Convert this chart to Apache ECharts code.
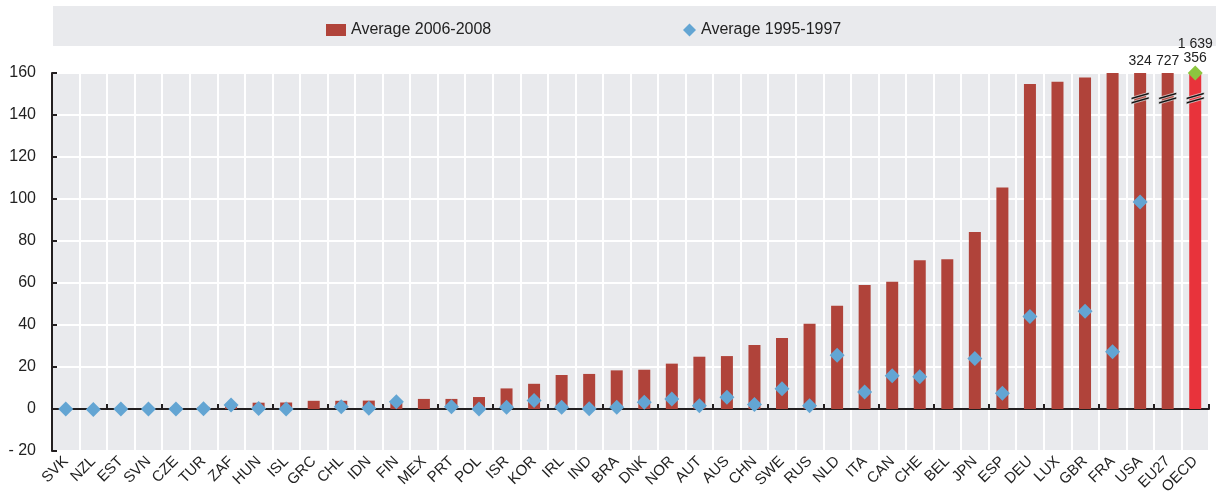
<!DOCTYPE html>
<html>
<head>
<meta charset="utf-8">
<title>Average 2006-2008 vs 1995-1997</title>
<script src="https://cdn.jsdelivr.net/npm/echarts@6/dist/echarts.min.js"></script>
<style>
html, body { margin: 0; padding: 0; background: #fff; }
#main { width: 1216px; height: 494px; }
</style>
</head>
<body>
<div id="main"></div>
<script>
// categories (countries)
var countries = ['SVK', 'NZL', 'EST', 'SVN', 'CZE', 'TUR', 'ZAF', 'HUN', 'ISL', 'GRC', 'CHL', 'IDN', 'FIN', 'MEX',
  'PRT', 'POL', 'ISR', 'KOR', 'IRL', 'IND', 'BRA', 'DNK', 'NOR', 'AUT', 'AUS', 'CHN', 'SWE', 'RUS', 'NLD', 'ITA',
  'CAN', 'CHE', 'BEL', 'JPN', 'ESP', 'DEU', 'LUX', 'GBR', 'FRA', 'USA', 'EU27', 'OECD'];
// Average 2006-2008 (bars)
var avg0608 = [0.1, 0.2, 0.3, 0.4, 0.8, 1.0, 1.5, 3.0, 3.1, 3.9, 3.9, 4.0, 3.0, 4.8,
  4.8, 5.7, 9.8, 12.0, 16.2, 16.7, 18.4, 18.7, 21.6, 24.9, 25.2, 30.5, 33.8, 40.6, 49.2, 59.0,
  60.6, 70.8, 71.3, 84.3, 105.5, 154.8, 155.8, 157.8, 160, 324, 727, 1639];
// Average 1995-1997 (diamonds), null = no data
var avg9597 = [0, -0.2, 0, 0, 0, 0.1, 1.9, 0.2, 0, null, 1.1, 0.3, 3.5, null,
  1.1, 0, 0.8, 4.1, 0.8, 0.1, 0.8, 3.2, 4.8, 1.6, 5.6, 2.2, 9.7, 1.6, 25.6, 8.1,
  15.8, 15.4, null, 24.0, 7.5, 44.0, null, 46.6, 27.3, 98.6, null, 356];
// y axis
var yMin = -20, yMax = 160, yStep = 20;
var breakAt = 148; // where the axis-break marks sit on cut bars

var fontFam = "'Liberation Sans Narrow', 'Arial Narrow', 'Liberation Sans', sans-serif";
var barColor = '#b0433a', barColorTotal = '#e8333b';
var dotColor = '#63a5d3', dotColorTotal = '#8cc63f';

function fmtNum(v) {
  return String(v).replace(/\B(?=(\d{3})+(?!\d))/g, ' ');
}

var barData = avg0608.map(function (v, i) {
  var isTotal = countries[i] === 'OECD';
  var cut = v > yMax;
  return {
    value: Math.min(v, yMax),
    realValue: v,
    itemStyle: { color: isTotal ? barColorTotal : barColor },
    label: {
      show: cut,
      offset: isTotal ? [0, -17] : [0, 0]
    }
  };
});

var dotData = avg9597.map(function (v, i) {
  if (v === null) return null;
  var isTotal = countries[i] === 'OECD';
  var cut = v > yMax;
  return {
    value: Math.min(v, yMax),
    realValue: v,
    itemStyle: { color: isTotal ? dotColorTotal : dotColor },
    label: { show: cut }
  };
});

var breakMarks = [];
avg0608.forEach(function (v, i) {
  if (v > yMax) breakMarks.push({ coord: [countries[i], breakAt] });
});

var myChart = echarts.init(document.getElementById('main'));
var option = {
  animation: false,
  textStyle: { fontFamily: fontFam },
  graphic: [{
    type: 'rect',
    z: 0,
    shape: { x: 53, y: 6, width: 1163, height: 40 },
    style: { fill: '#e9eaed' }
  }],
  legend: [{
    left: 321, top: 17,
    icon: 'rect', itemWidth: 20, itemHeight: 12, itemGap: 8,
    textStyle: { color: '#222', fontSize: 16, fontFamily: fontFam },
    data: ['Average 2006-2008']
  }, {
    left: 678, top: 17,
    icon: 'diamond', itemWidth: 13, itemHeight: 13,
    textStyle: { color: '#222', fontSize: 16, fontFamily: fontFam },
    data: ['Average 1995-1997']
  }],
  grid: {
    left: 52, right: 7, top: 73, bottom: 43,
    show: true, backgroundColor: '#e9eaed', borderWidth: 0,
    containLabel: false,
    outerBoundsMode: 'none'
  },
  xAxis: [{
    type: 'category',
    data: countries,
    position: 'bottom',
    axisLine: { show: false, onZero: false },
    axisTick: { show: false },
    axisLabel: {
      rotate: 45, interval: 0, margin: 8,
      color: '#222', fontSize: 15, fontFamily: fontFam
    },
    splitLine: { show: true, lineStyle: { color: '#fff', width: 2 } }
  }, {
    // zero line with small ticks
    type: 'category',
    data: countries,
    position: 'top',
    axisLine: { show: true, onZero: true, lineStyle: { color: '#231f20', width: 2 } },
    axisTick: { show: true, inside: false, length: 5, lineStyle: { color: '#231f20', width: 2 } },
    axisLabel: { show: false },
    splitLine: { show: false }
  }],
  yAxis: {
    type: 'value',
    min: yMin, max: yMax, interval: yStep,
    axisLine: { show: true, onZero: false, lineStyle: { color: '#231f20', width: 2 } },
    axisTick: { show: true, inside: true, length: 5, lineStyle: { color: '#231f20', width: 2 } },
    axisLabel: {
      color: '#222', fontSize: 16, margin: 16, fontFamily: fontFam,
      formatter: function (v) { return v < 0 ? '- ' + Math.abs(v) : String(v); }
    },
    splitLine: { show: true, lineStyle: { color: '#fff', width: 2 } }
  },
  series: [{
    name: 'Average 2006-2008',
    type: 'bar',
    xAxisIndex: 0,
    barWidth: 12,
    itemStyle: { color: barColor },
    data: barData,
    label: {
      position: 'top', distance: 5,
      color: '#222', fontSize: 14, fontFamily: fontFam,
      formatter: function (p) { return fmtNum(p.data.realValue); }
    },
    markPoint: {
      symbol: 'path://M0,7 L20,0 L20,3.2 L0,10.2 Z M0,13 L20,6 L20,9.2 L0,16.2 Z',
      symbolSize: [18, 12],
      itemStyle: { color: '#111', borderColor: '#fff', borderWidth: 0.6 },
      label: { show: false },
      data: breakMarks
    },
    z: 2
  }, {
    name: 'Average 1995-1997',
    type: 'scatter',
    xAxisIndex: 0,
    symbol: 'diamond',
    symbolSize: 15,
    itemStyle: { color: dotColor, opacity: 1 },
    data: dotData,
    label: {
      position: 'top', distance: 0,
      color: '#222', fontSize: 14, fontFamily: fontFam,
      formatter: function (p) { return fmtNum(p.data.realValue); }
    },
    z: 3
  }]
};
myChart.setOption(option);
</script>
</body>
</html>
